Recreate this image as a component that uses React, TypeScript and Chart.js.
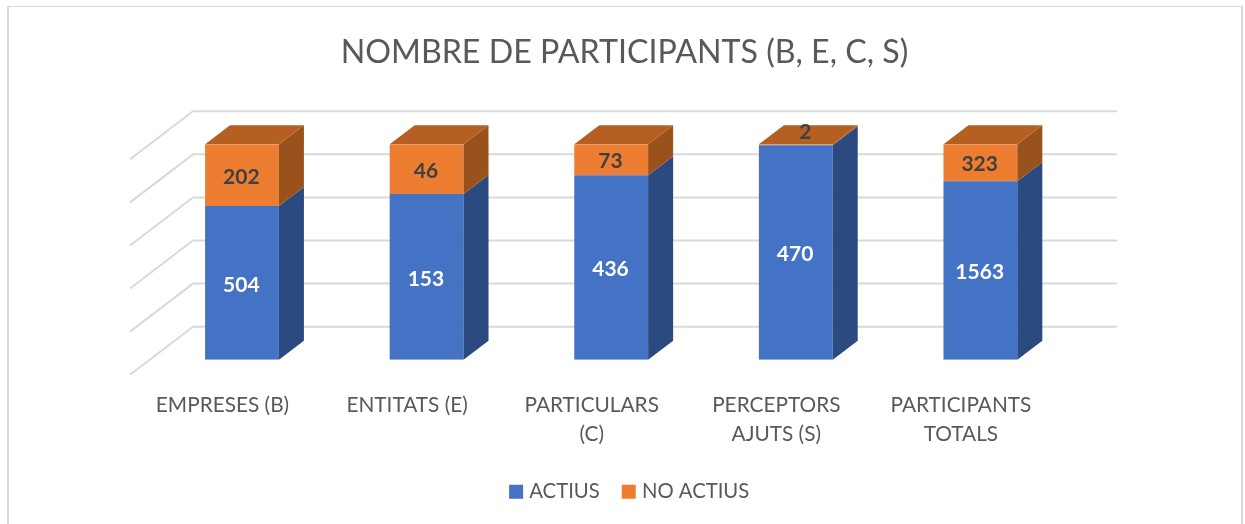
import React, { useEffect, useRef } from "react";
import { Chart, registerables } from "chart.js";

Chart.register(...registerables);

const categories = [
  "EMPRESES (B)",
  "ENTITATS (E)",
  ["PARTICULARS", "(C)"],
  ["PERCEPTORS", "AJUTS (S)"],
  ["PARTICIPANTS", "TOTALS"],
];
const actius = [504, 153, 436, 470, 1563];
const noActius = [202, 46, 73, 2, 323];
const titleText = "NOMBRE DE PARTICIPANTS (B, E, C, S)";
const FONT = "Lato, Carlito, Calibri, sans-serif";

const share = (a: number[], b: number[]) => a.map((v, i) => (v / (v + b[i])) * 100);

const depth = { dx: 25, dy: 19 };
const wall = { frontX: -19.7, frontY: 15, backX: 43.3, backY: -33 };

function poly(ctx: CanvasRenderingContext2D, pts: number[][], fill: string) {
  ctx.beginPath();
  pts.forEach(([x, y], i) => (i ? ctx.lineTo(x, y) : ctx.moveTo(x, y)));
  ctx.closePath();
  ctx.fillStyle = fill;
  ctx.fill();
}

const shiftBoxes = {
  id: "shiftBoxes",
  afterLayout(chart: any) {
    const move = (box: any, d: number) => {
      box.left += d;
      box.right += d;
    };
    move(chart.titleBlock, 13.3);
    move(chart.legend, 20);
  },
};

const walls = {
  id: "walls",
  beforeDatasetsDraw(chart: any) {
    const { ctx, chartArea, scales } = chart;
    ctx.save();
    ctx.strokeStyle = "#D9D9D9";
    ctx.lineWidth = 2;
    ctx.lineJoin = "round";
    scales.y.ticks.forEach((t: any) => {
      const y = scales.y.getPixelForValue(t.value);
      ctx.beginPath();
      ctx.moveTo(chartArea.left + wall.frontX, y + wall.frontY);
      ctx.lineTo(chartArea.left + wall.backX, y + wall.backY);
      ctx.lineTo(chartArea.right + wall.backX + 1, y + wall.backY);
      ctx.stroke();
    });
    ctx.restore();
  },
};

const faces = [
  { side: "#2A4A80", top: "#2F5597" },
  { side: "#9A521C", top: "#B55F22" },
];

const bars3d = {
  id: "bars3d",
  afterDatasetsDraw(chart: any) {
    const { ctx } = chart;
    ctx.save();
    chart.data.datasets.forEach((_: any, di: number) => {
      chart.getDatasetMeta(di).data.forEach((el: any) => {
        const { x, y, base, width } = el.getProps(["x", "y", "base", "width"], true);
        const l = x - width / 2;
        const r = x + width / 2;
        poly(ctx, [[r, y], [r + depth.dx, y - depth.dy], [r + depth.dx, base - depth.dy], [r, base]], faces[di].side);
        if (di === chart.data.datasets.length - 1) {
          poly(ctx, [[l, y], [l + depth.dx, y - depth.dy], [r + depth.dx, y - depth.dy], [r, y]], faces[di].top);
        }
      });
    });
    const colors = ["#FFFFFF", "#404040"];
    ctx.font = `bold 21px ${FONT}`;
    ctx.textAlign = "center";
    ctx.textBaseline = "middle";
    [actius, noActius].forEach((vals, di) => {
      chart.getDatasetMeta(di).data.forEach((el: any, i: number) => {
        const { x, y, base } = el.getProps(["x", "y", "base"], true);
        ctx.fillStyle = colors[di];
        const thin = base - y < 6;
        const lx = thin ? x + depth.dx / 2 - 3 : x - 0.7;
        const ly = thin ? y - depth.dy / 2 - 3 : (y + base) / 2 + 2;
        ctx.fillText(String(vals[i]), lx, ly);
      });
    });
    ctx.restore();
  },
};

export default function App() {
  const ref = useRef<HTMLCanvasElement>(null);
  useEffect(() => {
    const chart = new Chart(ref.current!, {
      type: "bar",
      data: {
        labels: categories as any,
        datasets: [
          { label: "ACTIUS", data: share(actius, noActius), backgroundColor: "#4472C4" },
          { label: "NO ACTIUS", data: share(noActius, actius), backgroundColor: "#ED7D31" },
        ],
      },
      plugins: [shiftBoxes, walls, bars3d],
      options: {
        responsive: false,
        animation: false,
        layout: { padding: { left: 145.7, right: 172.3, top: 0, bottom: 12 } },
        datasets: { bar: { categoryPercentage: 1, barPercentage: 0.4 } },
        scales: {
          x: {
            stacked: true,
            border: { display: false },
            grid: { display: false },
            afterFit: (s: any) => { s.height = 96; },
            ticks: {
              autoSkip: false,
              maxRotation: 0,
              minRotation: 0,
              labelOffset: -19.5,
              padding: 23,
              color: "#595959",
              font: { family: FONT, size: 20.8, lineHeight: 1.4 },
            },
          },
          y: {
            stacked: true,
            display: false,
            min: 0,
            max: 100,
            ticks: { stepSize: 20 },
          },
        },
        plugins: {
          tooltip: { enabled: false },
          title: {
            display: true,
            text: titleText,
            color: "#595959",
            padding: { top: 33, bottom: 72.6 },
            font: { family: FONT, size: 32.2, weight: "normal", lineHeight: 1.2 },
          },
          legend: {
            position: "bottom",
            labels: {
              boxWidth: 6,
              boxHeight: 6,
              color: "#595959",
              padding: 26,
              font: { family: FONT, size: 20.3 },
              generateLabels: (c: any) =>
                (Chart.defaults.plugins.legend.labels as any).generateLabels(c).map((item: any) => ({
                  ...item,
                  lineWidth: 8,
                  strokeStyle: item.fillStyle,
                })),
            },
          },
        },
      } as any,
    });
    return () => chart.destroy();
  }, []);
  return (
    <div style={{ position: "absolute", left: 0, top: 0, width: 1245, height: 524, overflow: "hidden", background: "#fff" }}>
      <div style={{ position: "absolute", left: 7, top: 6, width: 1236, height: 600, boxSizing: "border-box", borderTop: "1px solid #D9D9D9", borderLeft: "2px solid #D9D9D9", borderRight: "2px solid #D9D9D9" }} />
      <canvas ref={ref} width={1241} height={524} style={{ position: "absolute", left: 4, top: 0, display: "block" }} />
    </div>
  );
}
